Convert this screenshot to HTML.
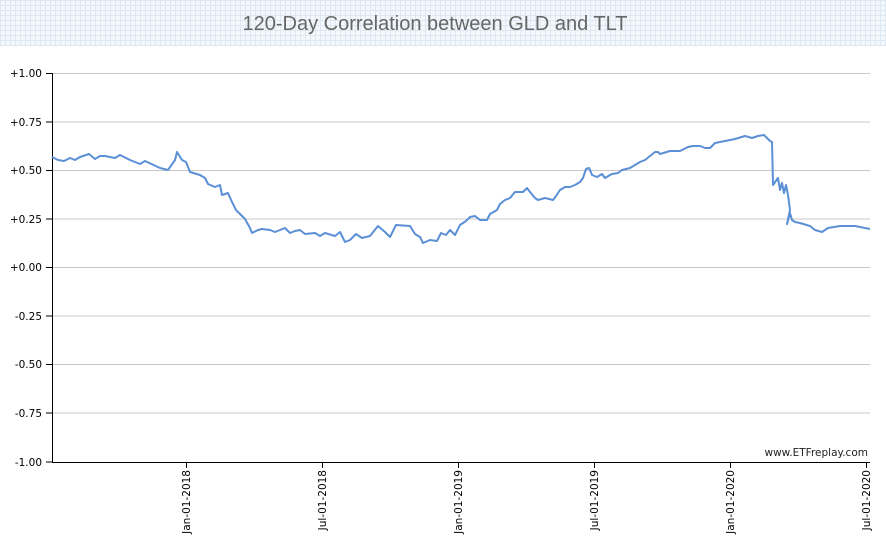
<!DOCTYPE html>
<html><head><meta charset="utf-8"><style>
body{margin:0;background:#fff;}
#band{position:absolute;left:0;top:0;width:886px;height:46px;
background-color:#f4f8fc;
background-image:repeating-linear-gradient(0deg,#dde8f3 0 1px,transparent 1px 5px),repeating-linear-gradient(90deg,#dde8f3 0 1px,transparent 1px 5px);}
</style></head><body>
<div id="band"></div>
<svg width="886" height="547" style="position:absolute;left:0;top:0" font-family="Liberation Sans, sans-serif">
<text x="435" y="30" text-anchor="middle" font-size="20" fill="#666">120-Day Correlation between GLD and TLT</text>
<g stroke="#c8c8c8" stroke-width="1">
<line x1="52" x2="870" y1="73.5" y2="73.5"/><line x1="52" x2="870" y1="122" y2="122"/>
<line x1="52" x2="870" y1="170.5" y2="170.5"/><line x1="52" x2="870" y1="219" y2="219"/>
<line x1="52" x2="870" y1="267.5" y2="267.5"/><line x1="52" x2="870" y1="316" y2="316"/>
<line x1="52" x2="870" y1="364.5" y2="364.5"/><line x1="52" x2="870" y1="413" y2="413"/>
</g>
<g stroke="#000" stroke-width="1">
<line x1="52.5" x2="52.5" y1="73" y2="462"/><line x1="52" x2="870" y1="462.5" y2="462.5"/>
<line x1="46" x2="52" y1="73.5" y2="73.5"/><line x1="46" x2="52" y1="122" y2="122"/><line x1="46" x2="52" y1="170.5" y2="170.5"/><line x1="46" x2="52" y1="219" y2="219"/><line x1="46" x2="52" y1="267.5" y2="267.5"/><line x1="46" x2="52" y1="316" y2="316"/><line x1="46" x2="52" y1="364.5" y2="364.5"/><line x1="46" x2="52" y1="413" y2="413"/><line x1="46" x2="52" y1="462" y2="462"/>
<line x1="186.5" x2="186.5" y1="462" y2="468"/><line x1="322.5" x2="322.5" y1="462" y2="468"/><line x1="458.5" x2="458.5" y1="462" y2="468"/><line x1="594.5" x2="594.5" y1="462" y2="468"/><line x1="730.5" x2="730.5" y1="462" y2="468"/><line x1="866.5" x2="866.5" y1="462" y2="468"/>
</g>
<g font-size="10.5" fill="#000" text-anchor="end" font-family="DejaVu Sans, sans-serif">
<text x="42" y="77">+1.00</text><text x="42" y="126">+0.75</text><text x="42" y="174">+0.50</text><text x="42" y="223">+0.25</text><text x="42" y="271">+0.00</text><text x="42" y="320">-0.25</text><text x="42" y="368">-0.50</text><text x="42" y="417">-0.75</text><text x="42" y="466">-1.00</text>
</g>
<g font-size="10.5" fill="#000" text-anchor="end" font-family="DejaVu Sans, sans-serif">
<text transform="translate(190,470) rotate(-90)">Jan-01-2018</text>
<text transform="translate(326,470) rotate(-90)">Jul-01-2018</text>
<text transform="translate(462,470) rotate(-90)">Jan-01-2019</text>
<text transform="translate(598,470) rotate(-90)">Jul-01-2019</text>
<text transform="translate(734,470) rotate(-90)">Jan-01-2020</text>
<text transform="translate(870,470) rotate(-90)">Jul-01-2020</text>
</g>
<text x="868" y="456" text-anchor="end" font-size="10.5" fill="#222" font-family="DejaVu Sans, sans-serif">www.ETFreplay.com</text>
<polyline fill="none" stroke="#5b8fd6" stroke-width="2" stroke-linejoin="round" points="52,157 58,160 64,161 70,158 75,160 80,157 89,154 95,159 100,156 105,156 115,158 120,155 130,160 140,164 145,161 160,168 168,170 175,160 177,152 182,160 186,162 190,172 200,175 205,178 208,184 215,187 220,185 222,195 228,193 232,202 236,210 242,216 245,219 250,228 252,233 258,230 262,229 270,230 275,232 285,228 290,233 295,231 300,230 305,234 315,233 320,236 325,233 335,236 340,232 345,242 350,240 356,234 362,238 370,236 378,226 385,232 390,237 396,225 410,226 415,234 420,237 423,243 430,240 437,241 441,233 446,235 450,230 455,235 460,225 466,221 470,217 475,216 480,220 487,220 490,214 497,210 500,204 505,200 510,198 515,192 523,192 527,188 530,192 535,198 538,200 545,198 553,200 556,196 560,190 565,187 570,187 575,185 580,182 583,178 586,169 589,168 590,170 592,175 597,177 602,174 605,178 610,175 612,174 618,173 622,170 630,168 635,165 640,162 645,160 650,156 655,152 658,152 660,154 670,151 680,151 688,147 693,146 700,146 705,148 710,148 715,143 720,142 725,141 735,139 745,136 752,138 758,136 764,135 770,141 772,142 773,185 778,178 780,190 782,183 784,193 786,185 788,195 790,210 787,224 790,213 792,220 795,222 800,223 810,226 815,230 822,232 828,228 840,226 855,226 870,229"/>
</svg>
</body></html>
